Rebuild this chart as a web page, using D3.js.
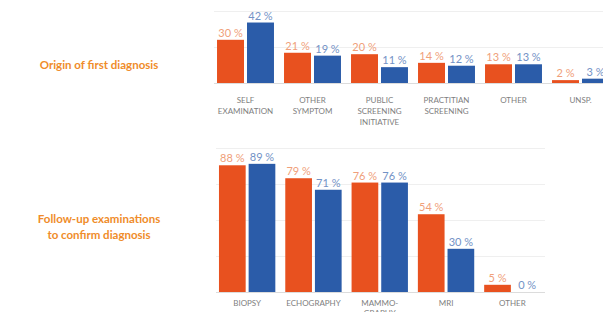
<!DOCTYPE html>
<html><head><meta charset="utf-8">
<script src="https://cdn.jsdelivr.net/npm/d3@7/dist/d3.min.js"></script>
<style>body{margin:0;background:#fff;}svg{display:block;font-family:Lato,"Open Sans",sans-serif;}</style>
</head><body>
<script>
const series = ["A","B"];
const topCategories = [["SELF","EXAMINATION"],["OTHER","SYMPTOM"],["PUBLIC","SCREENING","INITIATIVE"],["PRACTITIAN","SCREENING"],["OTHER"],["UNSP."]];
const topSeriesA = [30,21,20,14,13,2];
const topSeriesB = [42,19,11,12,13,3];
const bottomCategories = [["BIOPSY"],["ECHOGRAPHY"],["MAMMO-","GRAPHY"],["MRI"],["OTHER"]];
const bottomSeriesA = [88,79,76,54,5];
const bottomSeriesB = [89,71,76,30,0];
const topTitle = ["Origin of first diagnosis"];
const bottomTitle = ["Follow-up examinations","to confirm diagnosis"];
const topTicks = [25,50];
const bottomTicks = [25,50,75,100];

const W=603,H=312;
const colors={A:"#E8511F",B:"#2B5CA9"};
const labelColors={A:"#F0A07A",B:"#7392C6"};
const svg=d3.select("body").append("svg").attr("width",W).attr("height",H);

function panel(cats,a,b,ticks,ymax,base,r0,r1,gridEnd,labOff,labStep){
  const keys=cats.map((c,i)=>i);
  const x0=d3.scaleBand().domain(keys).range([r0,r1]).paddingInner(0.15).paddingOuter(0.075);
  const x1=d3.scaleBand().domain(series).range([0,x0.bandwidth()]).paddingInner(0.1);
  const y=d3.scaleLinear().domain([0,ymax]).range([base,base-1.44*ymax]);
  const g=svg.append("g");
  g.selectAll("line.grid").data(ticks).join("line").attr("class","grid")
    .attr("x1",r0+2).attr("x2",gridEnd).attr("y1",d=>Math.round(y(d))+0.5).attr("y2",d=>Math.round(y(d))+0.5)
    .attr("stroke","#efefef").attr("stroke-width",1);
  g.append("line").attr("x1",r0+2).attr("x2",gridEnd).attr("y1",base+0.5).attr("y2",base+0.5)
    .attr("stroke","#dcdcdc").attr("stroke-width",1);
  const data=keys.map(i=>({i,vals:[{k:"A",v:a[i]},{k:"B",v:b[i]}]}));
  const gg=g.selectAll("g.grp").data(data).join("g").attr("transform",d=>`translate(${x0(d.i)},0)`);
  gg.selectAll("rect").data(d=>d.vals).join("rect")
    .attr("x",d=>x1(d.k)).attr("width",x1.bandwidth())
    .attr("y",d=>y(d.v)).attr("height",d=>base-y(d.v)).attr("fill",d=>colors[d.k]);
  gg.selectAll("text.val").data(d=>d.vals).join("text").attr("class","val")
    .attr("x",d=>x1(d.k)+x1.bandwidth()/2).attr("y",d=>y(d.v)-3)
    .attr("text-anchor","middle").attr("font-size",11).attr("fill",d=>labelColors[d.k])
    .text(d=>d.v+" %");
  const lab=gg.append("text").attr("text-anchor","middle").attr("font-size",8).attr("fill","#808080")
    .attr("transform",`translate(${x0.bandwidth()/2},${base+labOff})`);
  lab.selectAll("tspan").data(d=>cats[d.i]).join("tspan").attr("x",0).attr("dy",(d,j)=>j?labStep:0).text(d=>d);
}
panel(topCategories,topSeriesA,topSeriesB,topTicks,50,83,212,614,603,20,11);
panel(bottomCategories,bottomSeriesA,bottomSeriesB,bottomTicks,100,292,214,545.5,545,14,10);

function title(lines,cy){
  const t=svg.append("text").attr("text-anchor","middle").attr("font-size",11.5).attr("font-weight","bold")
    .attr("fill","#EF8C2A").attr("transform",`translate(99,${cy})`);
  t.selectAll("tspan").data(lines).join("tspan").attr("x",0).attr("dy",(d,j)=>j?16:0).text(d=>d);
}
title(topTitle,69);
title(bottomTitle,223);
</script>
</body></html>
